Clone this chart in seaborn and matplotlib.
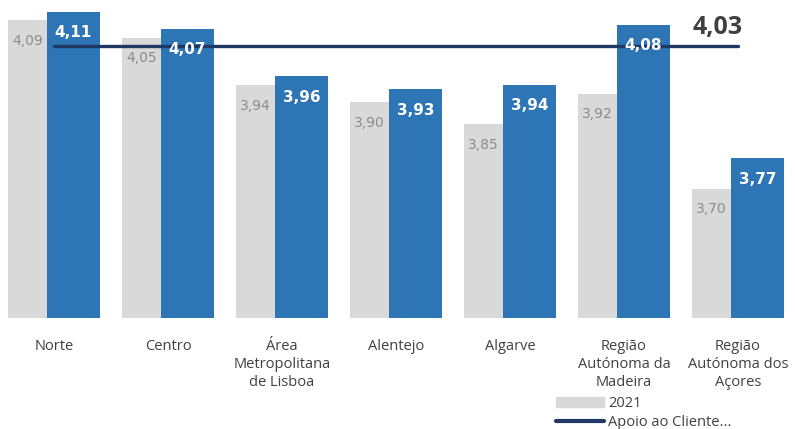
import numpy as np
import pandas as pd
import matplotlib.pyplot as plt
import matplotlib.patches as mpatches
from matplotlib.lines import Line2D
import seaborn as sns

# ------------------------------------------------------------------ #
# Dados
# ------------------------------------------------------------------ #
regioes = [
    "Norte",
    "Centro",
    "Área\nMetropolitana\nde Lisboa",
    "Alentejo",
    "Algarve",
    "Região\nAutónoma da\nMadeira",
    "Região\nAutónoma dos\nAçores",
]
valores_2021 = [4.09, 4.05, 3.94, 3.90, 3.85, 3.92, 3.70]
valores_2022 = [4.11, 4.07, 3.96, 3.93, 3.94, 4.08, 3.77]
apoio_cliente = [4.03, 4.03, 4.03, 4.03, 4.03, 4.03, 4.03]
serie_nomes = ["2021", "2022"]
linha_nome = "Apoio ao Cliente..."

COR_CINZA = "#D9D9D9"
COR_AZUL = "#2E75B6"
COR_LINHA = "#1F3864"
COR_TEXTO = "#404040"

df = pd.DataFrame({
    "regiao": regioes * 2,
    "valor": valores_2021 + valores_2022,
    "ano": [serie_nomes[0]] * len(regioes) + [serie_nomes[1]] * len(regioes),
})

sns.set_theme(style="white")
plt.rcParams["font.family"] = ["Open Sans", "DejaVu Sans"]

fig = plt.figure(figsize=(7.95, 4.29), dpi=100)
ax = fig.add_axes([0, (429 - 318) / 429, 1, 318 / 429])

sns.barplot(
    data=df, x="regiao", y="valor", hue="ano",
    palette=[COR_CINZA, COR_AZUL], dodge=True, legend=False,
    saturation=1, ax=ax,
)

# Barras sobrepostas (estilo Excel)
largura, desloc = 0.465, 0.17
for k, cont in enumerate(ax.containers):
    sinal = -1 if k == 0 else 1
    for i, bar in enumerate(cont):
        bar.set_width(largura)
        bar.set_x(i + sinal * desloc - largura / 2)
        bar.set_edgecolor("none")

# Linha de referência
x_pos = np.arange(len(regioes))
sns.lineplot(x=x_pos, y=apoio_cliente, color=COR_LINHA, lw=2.4, ax=ax)

# Rótulos
for i, (v1, v2) in enumerate(zip(valores_2021, valores_2022)):
    xg = (i - desloc - largura / 2 + i + desloc - largura / 2) / 2
    ax.text(xg, v1 - 0.048, f"{v1:.2f}".replace(".", ","),
            ha="center", va="center", fontsize=10, color="#8C8C8C",
            family=["DejaVu Sans"])
    ax.text(i + desloc, v2 - 0.048, f"{v2:.2f}".replace(".", ","),
            ha="center", va="center", fontsize=11, color="white",
            fontweight="bold", family=["DejaVu Sans"])

ax.text(5.82, 4.074, f"{apoio_cliente[-1]:.2f}".replace(".", ","),
        ha="center", va="center", fontsize=18, fontweight="bold",
        color=COR_TEXTO)

ax.set_xlim(-0.474, 6.5)
ax.set_ylim(3.4, 4.137)
ax.set_xlabel("")
ax.set_ylabel("")
ax.set_yticks([])
ax.set_xticks(x_pos)
ax.set_xticklabels(regioes, fontsize=10.5, color=COR_TEXTO, linespacing=1.3)
ax.tick_params(axis="x", length=0, pad=15)
sns.despine(ax=ax, left=True, bottom=True)

# Legenda
handles = [
    mpatches.Patch(color=COR_CINZA, label=serie_nomes[0]),
    Line2D([0], [0], color=COR_LINHA, lw=3, label=linha_nome),
]
fig.legend(handles=handles, loc="upper left",
           bbox_to_anchor=(550 / 795, 1 - 390 / 429),
           frameon=False, fontsize=10.5, handlelength=3.3,
           handletextpad=0.3, labelspacing=0.3, borderaxespad=0,
           labelcolor=COR_TEXTO)

plt.savefig("out.png", dpi=100)
plt.close()
